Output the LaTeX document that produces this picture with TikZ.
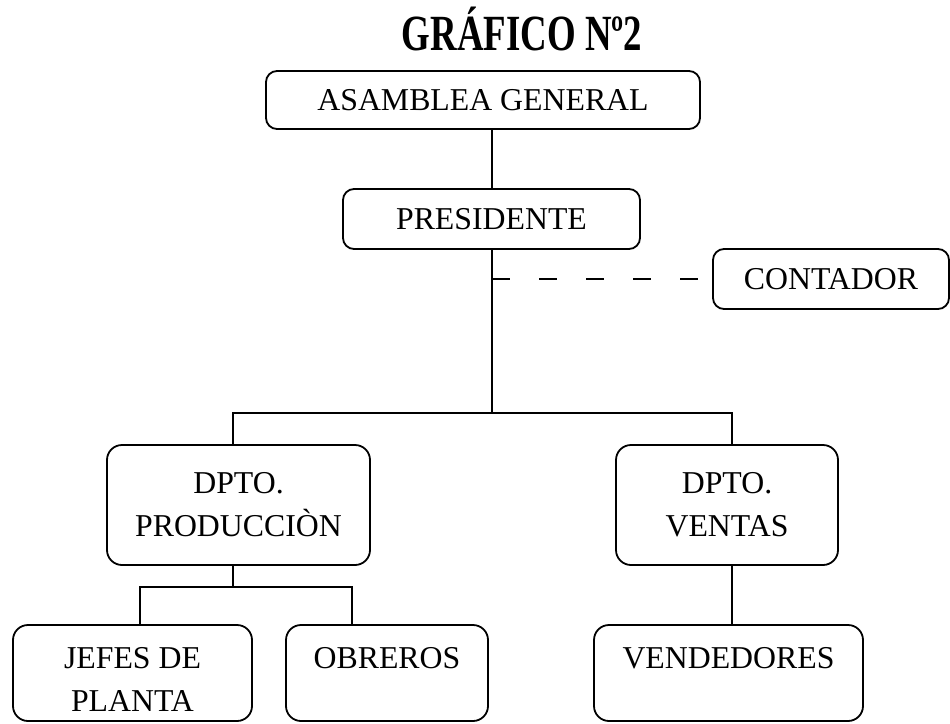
\documentclass[tikz,border=0pt]{standalone}
\usepackage{fontspec}
\setmainfont{Liberation Serif}
\begin{document}
\begin{tikzpicture}[x=1pt,y=-1pt,
  box/.style={draw, line width=1.8pt, rounded corners=#1, inner sep=0pt},
  box/.default=11pt,
  lbl/.style={font=\fontsize{31.8}{43}\selectfont, align=center, inner sep=0pt},
  conn/.style={line width=1.3pt}]
\useasboundingbox (0,0) rectangle (950,723);
\node[font=\fontsize{39}{46}\selectfont\bfseries, anchor=base, inner sep=0pt] (title) at (522,50) {\scalebox{0.945}[1.3]{GRÁFICO Nº2}};
\node[box, minimum width=434pt, minimum height=58pt,
  label={[lbl]center:ASAMBLEA GENERAL}] (asam) at (483,100) {};
\node[box, minimum width=297pt, minimum height=60pt,
  label={[lbl]center:PRESIDENTE}] (pres) at (491.5,219) {};
\node[box, minimum width=236pt, minimum height=60pt,
  label={[lbl]center:CONTADOR}] (cont) at (831,279) {};
\node[box=15pt, minimum width=263pt, minimum height=120pt,
  label={[lbl]center:DPTO.\\PRODUCCIÒN}] (prod) at (238.5,505) {};
\node[box=15pt, minimum width=222pt, minimum height=120pt,
  label={[lbl]center:DPTO.\\VENTAS}] (vent) at (727,505) {};
\node[box=15pt, minimum width=239pt, minimum height=96pt,
  label={[lbl, anchor=north, yshift=-23pt]north:JEFES DE\\PLANTA}] (jefe) at (132.5,673) {};
\node[box=15pt, minimum width=202pt, minimum height=96pt,
  label={[lbl, anchor=north, yshift=-23pt]north:OBREROS}] (obre) at (387,673) {};
\node[box=15pt, minimum width=269pt, minimum height=96pt,
  label={[lbl, anchor=north, yshift=-23pt]north:VENDEDORES}] (vend) at (728.5,673) {};
\coordinate (hub) at (492,413);
\coordinate (pl) at (233,413);
\coordinate (pr) at (732,413);
\coordinate (sub) at (233,587);
\coordinate (sl) at (140,587);
\coordinate (sr) at (352,587);
\draw[conn] (pres.north -| hub) -- (asam.south -| hub);
\draw[conn] (pres.south -| hub) -- (hub);
\draw[conn, dash pattern=on 18pt off 29pt] (cont.west -| hub) -- (cont.west);
\draw[conn] (pl |- prod.north) -- (pl) -- (pr) -- (pr |- vent.north);
\draw[conn] (pl |- prod.south) -- (sub);
\draw[conn] (sl |- jefe.north) -- (sl) -- (sr) -- (sr |- obre.north);
\draw[conn] (pr |- vent.south) -- (pr |- vend.north);
\end{tikzpicture}
\end{document}
